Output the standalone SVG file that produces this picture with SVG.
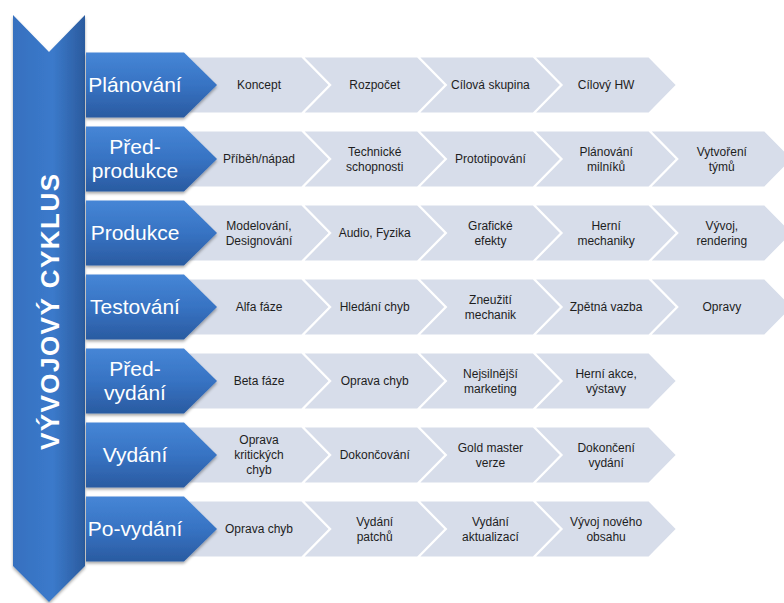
<svg xmlns="http://www.w3.org/2000/svg" xmlns:xlink="http://www.w3.org/1999/xlink" width="784" height="603" viewBox="0 0 784 603">
<defs>
<linearGradient id="gBlue" x1="0" y1="0" x2="0" y2="1">
<stop offset="0" stop-color="#4686d6"/>
<stop offset="0.5" stop-color="#3773c3"/>
<stop offset="1" stop-color="#2a5ba1"/>
</linearGradient>
<linearGradient id="gBanner" x1="0" y1="0" x2="1" y2="0">
<stop offset="0" stop-color="#3670bf"/>
<stop offset="0.55" stop-color="#3b7acb"/>
<stop offset="1" stop-color="#2b5b9e"/>
</linearGradient>
<filter id="sh" x="-10%" y="-10%" width="130%" height="140%">
<feDropShadow dx="0" dy="2" stdDeviation="1.6" flood-color="#000" flood-opacity="0.35"/>
</filter>
<path id="grey" d="M0,-27.5 H112.5 L139.5,0 L112.5,27.5 H0 L27,0 Z"/>
<path id="blue" d="M0,-32.5 H98 L131,0 L98,32.5 H0 Z"/>
</defs>
<style>
.g{fill:#d7ddea}
.b{fill:url(#gBlue);filter:url(#sh)}
.t{font-family:"Liberation Sans",Arial,sans-serif;font-size:12px;fill:#1e1e1e;text-anchor:middle}
.h{font-family:"Liberation Sans",Arial,sans-serif;font-size:21px;fill:#ffffff;text-anchor:middle}
.v{font-family:"Liberation Sans",Arial,sans-serif;font-size:26px;font-weight:bold;fill:#ffffff;text-anchor:middle}
</style>
<rect width="784" height="603" fill="#ffffff"/>

<g id="banner">
<path d="M13,15 L49,52 L85,15 V566 L49,602 L13,566 Z" fill="url(#gBanner)" filter="url(#sh)"/>
<text class="v" transform="translate(59,312) rotate(-90)" textLength="276" lengthAdjust="spacing">VÝVOJOVÝ CYKLUS</text>
</g>

<g id="row1">
<g id="r1-items">
<use href="#grey" class="g" x="189" y="85"/><text class="t" x="259" y="89">Koncept</text>
<use href="#grey" class="g" x="304.7" y="85"/><text class="t" x="374.7" y="89">Rozpočet</text>
<use href="#grey" class="g" x="420.4" y="85"/><text class="t" x="490.4" y="89">Cílová skupina</text>
<use href="#grey" class="g" x="536.1" y="85"/><text class="t" x="606.1" y="89">Cílový HW</text>
</g>
<use href="#blue" class="b" x="86" y="85"/><text class="h" x="135" y="92">Plánování</text>
</g>

<g id="row2">
<g id="r2-items">
<use href="#grey" class="g" x="189" y="159"/><text class="t" x="259" y="163">Příběh/nápad</text>
<use href="#grey" class="g" x="304.7" y="159"/><text class="t" x="374.7" y="155.5">Technické<tspan x="374.7" dy="15">schopnosti</tspan></text>
<use href="#grey" class="g" x="420.4" y="159"/><text class="t" x="490.4" y="163">Prototipování</text>
<use href="#grey" class="g" x="536.1" y="159"/><text class="t" x="606.1" y="155.5">Plánování<tspan x="606.1" dy="15">milníků</tspan></text>
<use href="#grey" class="g" x="651.8" y="159"/><text class="t" x="721.8" y="155.5">Vytvoření<tspan x="721.8" dy="15">týmů</tspan></text>
</g>
<use href="#blue" class="b" x="86" y="159"/><text class="h" x="135" y="154">Před-<tspan x="135" dy="24">produkce</tspan></text>
</g>

<g id="row3">
<g id="r3-items">
<use href="#grey" class="g" x="189" y="233"/><text class="t" x="259" y="229.5">Modelování,<tspan x="259" dy="15">Designování</tspan></text>
<use href="#grey" class="g" x="304.7" y="233"/><text class="t" x="374.7" y="237">Audio, Fyzika</text>
<use href="#grey" class="g" x="420.4" y="233"/><text class="t" x="490.4" y="229.5">Grafické<tspan x="490.4" dy="15">efekty</tspan></text>
<use href="#grey" class="g" x="536.1" y="233"/><text class="t" x="606.1" y="229.5">Herní<tspan x="606.1" dy="15">mechaniky</tspan></text>
<use href="#grey" class="g" x="651.8" y="233"/><text class="t" x="721.8" y="229.5">Vývoj,<tspan x="721.8" dy="15">rendering</tspan></text>
</g>
<use href="#blue" class="b" x="86" y="233"/><text class="h" x="135" y="240">Produkce</text>
</g>

<g id="row4">
<g id="r4-items">
<use href="#grey" class="g" x="189" y="307"/><text class="t" x="259" y="311">Alfa fáze</text>
<use href="#grey" class="g" x="304.7" y="307"/><text class="t" x="374.7" y="311">Hledání chyb</text>
<use href="#grey" class="g" x="420.4" y="307"/><text class="t" x="490.4" y="303.5">Zneužití<tspan x="490.4" dy="15">mechanik</tspan></text>
<use href="#grey" class="g" x="536.1" y="307"/><text class="t" x="606.1" y="311">Zpětná vazba</text>
<use href="#grey" class="g" x="651.8" y="307"/><text class="t" x="721.8" y="311">Opravy</text>
</g>
<use href="#blue" class="b" x="86" y="307"/><text class="h" x="135" y="314">Testování</text>
</g>

<g id="row5">
<g id="r5-items">
<use href="#grey" class="g" x="189" y="381"/><text class="t" x="259" y="385">Beta fáze</text>
<use href="#grey" class="g" x="304.7" y="381"/><text class="t" x="374.7" y="385">Oprava chyb</text>
<use href="#grey" class="g" x="420.4" y="381"/><text class="t" x="490.4" y="377.5">Nejsilnější<tspan x="490.4" dy="15">marketing</tspan></text>
<use href="#grey" class="g" x="536.1" y="381"/><text class="t" x="606.1" y="377.5">Herní akce,<tspan x="606.1" dy="15">výstavy</tspan></text>
</g>
<use href="#blue" class="b" x="86" y="381"/><text class="h" x="135" y="376">Před-<tspan x="135" dy="24">vydání</tspan></text>
</g>

<g id="row6">
<g id="r6-items">
<use href="#grey" class="g" x="189" y="455"/><text class="t" x="259" y="444">Oprava<tspan x="259" dy="15">kritických</tspan><tspan x="259" dy="15">chyb</tspan></text>
<use href="#grey" class="g" x="304.7" y="455"/><text class="t" x="374.7" y="459">Dokončování</text>
<use href="#grey" class="g" x="420.4" y="455"/><text class="t" x="490.4" y="451.5">Gold master<tspan x="490.4" dy="15">verze</tspan></text>
<use href="#grey" class="g" x="536.1" y="455"/><text class="t" x="606.1" y="451.5">Dokončení<tspan x="606.1" dy="15">vydání</tspan></text>
</g>
<use href="#blue" class="b" x="86" y="455"/><text class="h" x="135" y="462">Vydání</text>
</g>

<g id="row7">
<g id="r7-items">
<use href="#grey" class="g" x="189" y="529"/><text class="t" x="259" y="533">Oprava chyb</text>
<use href="#grey" class="g" x="304.7" y="529"/><text class="t" x="374.7" y="525.5">Vydání<tspan x="374.7" dy="15">patchů</tspan></text>
<use href="#grey" class="g" x="420.4" y="529"/><text class="t" x="490.4" y="525.5">Vydání<tspan x="490.4" dy="15">aktualizací</tspan></text>
<use href="#grey" class="g" x="536.1" y="529"/><text class="t" x="606.1" y="525.5">Vývoj nového<tspan x="606.1" dy="15">obsahu</tspan></text>
</g>
<use href="#blue" class="b" x="86" y="529"/><text class="h" x="135" y="536">Po-vydání</text>
</g>

<g id="connectors"/>
</svg>
